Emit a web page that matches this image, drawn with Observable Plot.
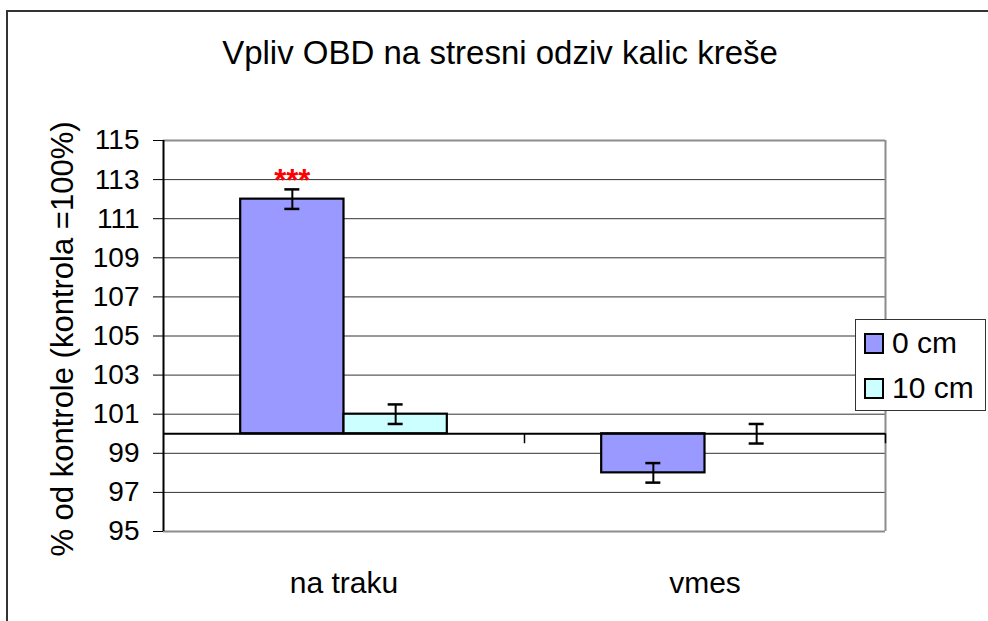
<!DOCTYPE html>
<html>
<head>
<meta charset="utf-8">
<script src="https://cdn.jsdelivr.net/npm/d3@7"></script>
<script src="https://cdn.jsdelivr.net/npm/@observablehq/plot@0.6"></script>
<style>
  html, body { margin: 0; padding: 0; background: #fff; overflow: hidden; }
  #wrap { position: relative; width: 988px; height: 621px; overflow: hidden; font-family: "Liberation Sans", Arial, sans-serif; color: #000; }
  #outer { position: absolute; left: 6px; top: 10px; width: 1100px; height: 800px; border: 2px solid #333; box-sizing: border-box; }
  #title { position: absolute; left: 0; width: 1000px; top: 36px; text-align: center; font-size: 33px; line-height: 33px; white-space: nowrap; }
  #ylabel { position: absolute; left: 62px; top: 339px; transform: translate(-50%, -50%) rotate(-90deg); font-size: 31px; line-height: 31px; white-space: nowrap; }
  #legend { position: absolute; left: 855px; top: 319px; width: 131px; height: 92px; border: 1px solid #333; background: #fff; box-sizing: border-box; }
  .item { position: absolute; left: 8px; height: 22px; display: flex; align-items: center; font-size: 30px; line-height: 22px; white-space: nowrap; }
  .sw { width: 20px; height: 21px; border: 2px solid #000; box-sizing: border-box; margin-right: 8px; }
  #chart { position: absolute; left: 0; top: 0; }
</style>
</head>
<body>
<div id="wrap">
  <div id="outer"></div>
  <div id="chart"></div>
  <div id="title"></div>
  <div id="ylabel"></div>
  <div id="legend"></div>
</div>
<script>
// ---- data ----
const titleText = "Vpliv OBD na stresni odziv kalic kreše";
const yLabelText = "% od kontrole (kontrola =100%)";
const categories = ["na traku", "vmes"];
const series = ["0 cm", "10 cm"];
const values0 = [112, 98];
const values10 = [101, 100];
const errors0 = [0.5, 0.5];
const errors10 = [0.5, 0.5];
const signif0 = ["***", ""];
const signif10 = ["", ""];
const yTicks = [95, 97, 99, 101, 103, 105, 107, 109, 111, 113, 115];
const seriesColors = ["#9999FF", "#CCFFFF"];
const baseline = 100;

// ---- table for Plot ----
const table = [];
categories.forEach((c, i) => {
  table.push({cat: c, ser: series[0], v: values0[i], e: errors0[i], sig: signif0[i]});
  table.push({cat: c, ser: series[1], v: values10[i], e: errors10[i], sig: signif10[i]});
});

// layout
const W = 988, H = 621;
const mL = 163, mR = 103, mT = 140, mB = 90;
const paddingOuter = 0.747;
const facetW = (W - mL - mR) / categories.length;
const step = facetW / (series.length + 2 * paddingOuter);
const edgeDx = (paddingOuter + 0.5) * step; // from first/last band centre to facet edge
const capInset = (step - 15) / 2;

const chart = Plot.plot({
  width: W, height: H,
  marginLeft: mL, marginRight: mR, marginTop: mT, marginBottom: mB,
  style: {fontFamily: "Liberation Sans, Arial, sans-serif", fontSize: "28px", color: "#000", background: "transparent", overflow: "visible"},
  fx: {domain: categories, padding: 0, round: false, label: null},
  x: {domain: series, paddingInner: 0, paddingOuter: paddingOuter, round: false, axis: null},
  y: {domain: [95, 115], label: null},
  color: {domain: series, range: seriesColors},
  marks: [
    // gridlines
    Plot.ruleY(yTicks.filter(t => t !== 95 && t !== 115), {stroke: "#333", strokeWidth: 1}),
    // plot area border (top/bottom)
    Plot.ruleY([95, 115], {stroke: "#8c8c8c", strokeWidth: 2}),
    // right border
    Plot.ruleX([{c: categories[categories.length - 1]}], {fx: "c", x: () => series[series.length - 1], y1: 95, y2: 115, dx: edgeDx, stroke: "#8c8c8c", strokeWidth: 2}),
    // bars
    Plot.barY(table, {fx: "cat", x: "ser", y1: baseline, y2: "v", fill: "ser", stroke: "#000", strokeWidth: 2.2}),
    // category axis line at 100
    Plot.ruleY([baseline], {stroke: "#000", strokeWidth: 2}),
    // category boundary ticks
    Plot.ruleX(categories.map(c => ({c})), {fx: "c", x: () => series[series.length - 1], y1: baseline, y2: baseline, dx: edgeDx, insetBottom: -10, stroke: "#000", strokeWidth: 1.5}),
    // left value axis line
    Plot.ruleX([{c: categories[0]}], {fx: "c", x: () => series[0], y1: 95, y2: 115, dx: -edgeDx, stroke: "#000", strokeWidth: 2}),
    // axes
    Plot.axisY({ticks: yTicks, tickSize: 10, tickPadding: 14, tickFormat: d => String(d), label: null, fontSize: 28, stroke: "#000"}),
    Plot.axisFx({anchor: "bottom", tickSize: 0, tickPadding: 40, label: null, fontSize: 30}),
    // error bars
    Plot.ruleX(table, {fx: "cat", x: "ser", y1: d => d.v - d.e, y2: d => d.v + d.e, stroke: "#000", strokeWidth: 2}),
    Plot.tickY(table, {fx: "cat", x: "ser", y: d => d.v - d.e, insetLeft: capInset, insetRight: capInset, stroke: "#000", strokeWidth: 2.5}),
    Plot.tickY(table, {fx: "cat", x: "ser", y: d => d.v + d.e, insetLeft: capInset, insetRight: capInset, stroke: "#000", strokeWidth: 2.5}),
    // significance
    Plot.text(table.filter(d => d.sig), {fx: "cat", x: "ser", y: d => d.v + d.e, text: "sig", dy: -8, fill: "#ff0000", fontSize: 31, fontWeight: "bold"})
  ]
});
document.getElementById("chart").appendChild(chart);

document.getElementById("title").textContent = titleText;
document.getElementById("ylabel").textContent = yLabelText;
const legend = document.getElementById("legend");
const tops = [12, 57];
series.forEach((s, i) => {
  const item = document.createElement("div");
  item.className = "item";
  item.style.top = tops[i] + "px";
  const sw = document.createElement("div");
  sw.className = "sw";
  sw.style.background = seriesColors[i];
  const t = document.createElement("span");
  t.textContent = s;
  item.appendChild(sw);
  item.appendChild(t);
  legend.appendChild(item);
});
</script>
</body>
</html>
